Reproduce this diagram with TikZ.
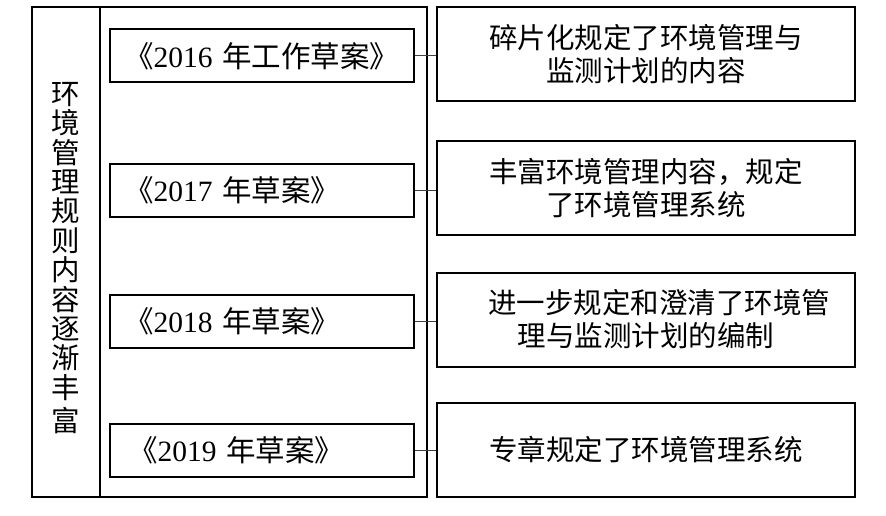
\documentclass[tikz,border=0pt]{standalone}
\usepackage{fontspec}
\setmainfont{Liberation Serif}
\newfontfamily\cjk{Noto Sans CJK SC}
\tikzset{
  draftbox/.style={draw, line width=2pt, minimum width=304pt, minimum height=53pt,
    text width=276pt, inner xsep=14pt, align=left, font=\fontsize{29.5}{33}\selectfont},
  notebox/.style={draw, line width=2pt, minimum width=418pt, minimum height=94pt,
    text width=400pt, align=center, font=\fontsize{28.5}{33}\selectfont\cjk},
  link/.style={line width=1pt, black!75}
}
\begin{document}
\begin{tikzpicture}[x=1pt, y=-1pt, font=\fontsize{28.5}{33}\selectfont]
    \useasboundingbox (0,0) rectangle (886,516);

    \node[draw, line width=2pt, minimum width=395pt, minimum height=490pt] (frame) at (229.5,252) {};
    \coordinate (divtop) at (100,7);
    \draw[line width=1.2pt] (divtop) -- (divtop |- frame.south);
    \node[text width=30pt, align=center, inner sep=0pt] (theme) at (66,258)
      {\cjk\baselineskip=29.4pt 环\\境\\管\\理\\规\\则\\内\\容\\逐\\渐\\丰\\富};

    \node[draftbox] (d2016) at (262,56) {{\cjk 《}2016 {\cjk 年工作草案》}};
    \node[draftbox] (d2017) at (262,190) {{\cjk 《}2017 {\cjk 年草案》}};
    \node[draftbox] (d2018) at (262,321.5) {{\cjk 《}2018 {\cjk 年草案》}};
    \node[draftbox] (d2019) at (262,450) {\hspace*{4pt}{\cjk 《}2019 {\cjk 年草案》}};

    \node[notebox] (n2016) at (646,54.5) {碎片化规定了环境管理与\\监测计划的内容};
    \node[notebox] (n2017) at (646,188) {丰富环境管理内容，规定\\了环境管理系统};
    \node[notebox] (n2018) at (646,319.5) {\hspace*{26pt}进一步规定和澄清了环境管\\理与监测计划的编制};
    \node[notebox] (n2019) at (646,449.5) {专章规定了环境管理系统};

    \draw[link] (d2016.east) -- (d2016.east -| n2016.west);
    \draw[link] (d2017.east) -- (d2017.east -| n2017.west);
    \draw[link] (d2018.east) -- (d2018.east -| n2018.west);
    \draw[link] (d2019.east) -- (d2019.east -| n2019.west);
\end{tikzpicture}
\end{document}
